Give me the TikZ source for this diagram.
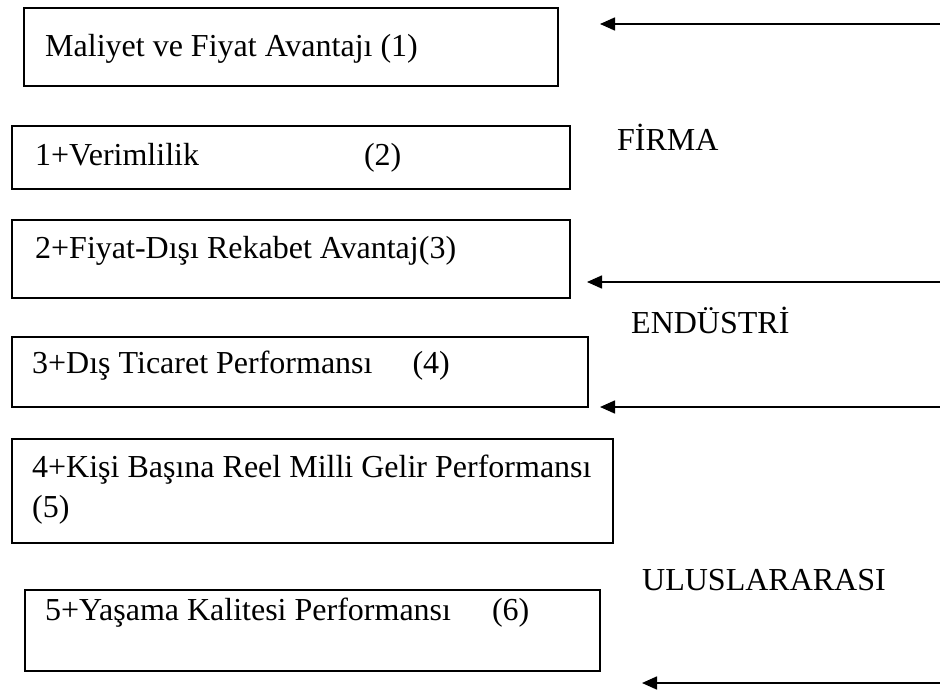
\documentclass[tikz,border=0pt]{standalone}
\usepackage{fontspec}
\setmainfont{Liberation Serif}
\usetikzlibrary{arrows.meta,calc}
\begin{document}
\begin{tikzpicture}[x=1pt,y=-1pt,
  box/.style={draw, line width=1.6pt, anchor=north west, inner sep=0pt},
  txt/.style={anchor=base west, inner sep=0pt, font=\fontsize{32}{40}\selectfont},
  lvl/.style={anchor=base west, inner sep=0pt, font=\fontsize{32}{40}\selectfont},
  arr/.style={line width=1.6pt, -{Triangle[length=15pt,width=13pt]}}]
\useasboundingbox (0,0) rectangle (940,691);
% boxes
\node[box, minimum width=534, minimum height=78] (b1) at (23,7) {};
\node[box, minimum width=558, minimum height=63] (b2) at (11,125) {};
\node[box, minimum width=558, minimum height=78] (b3) at (11,219) {};
\node[box, minimum width=576, minimum height=70] (b4) at (11,336) {};
\node[box, minimum width=601, minimum height=104] (b5) at (11,438) {};
\node[box, minimum width=575, minimum height=81] (b6) at (24,589) {};
% box texts
\node[txt] (t1) at ($(b1.north west)+(22,49)$) {Maliyet ve Fiyat Avantajı (1)};
\node[txt] (t2) at ($(b2.north west)+(24,40)$) {1+Verimlilik\hspace{165pt}(2)};
\node[txt] (t3) at ($(b3.north west)+(24,39)$) {2+Fiyat-Dışı Rekabet Avantaj(3)};
\node[txt] (t4) at ($(b4.north west)+(21,37)$) {3+Dış Ticaret Performansı\hspace{40pt}(4)};
\node[txt] (t5a) at ($(b5.north west)+(21,39)$) {4+Kişi Başına Reel Milli Gelir Performansı};
\node[txt] (t5b) at ($(b5.north west)+(21,79)$) {(5)};
\node[txt] (t6) at ($(b6.north west)+(21,31)$) {5+Yaşama Kalitesi Performansı\hspace{41pt}(6)};
% level labels
\node[lvl] (firma) at (617,150) {FİRMA};
\node[lvl] (endustri) at (631,333) {ENDÜSTRİ};
\node[lvl] (ulus) at (642,590) {ULUSLARARASI};
% arrows
\coordinate (a1s) at (940,24);  \coordinate (a1e) at (600,24);
\coordinate (a2s) at (940,282); \coordinate (a2e) at (587,282);
\coordinate (a3s) at (940,407); \coordinate (a3e) at (600,407);
\coordinate (a4s) at (940,683); \coordinate (a4e) at (642,683);
\draw[arr] (a1s) -- (a1e);
\draw[arr] (a2s) -- (a2e);
\draw[arr] (a3s) -- (a3e);
\draw[arr] (a4s) -- (a4e);
\end{tikzpicture}
\end{document}
